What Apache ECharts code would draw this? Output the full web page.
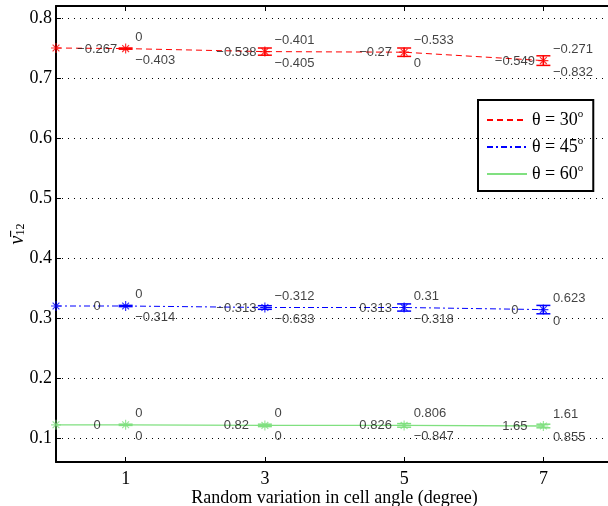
<!DOCTYPE html>
<html><head><meta charset="utf-8">
<script src="https://cdn.jsdelivr.net/npm/echarts@6/dist/echarts.min.js"></script>
<style>html,body{margin:0;padding:0;background:#fff}#c{width:608px;height:506px}</style>
</head><body><div id="c"></div>
<script>
const xValues = [0, 1, 3, 5, 7];
const xTicks = [1, 3, 5, 7];
const yTicks = [0.1, 0.2, 0.3, 0.4, 0.5, 0.6, 0.7, 0.8];
const seriesNames = ['θ = 30', 'θ = 45', 'θ = 60'];
const nu30 = [0.750, 0.749, 0.744, 0.743, 0.729];
const nu45 = [0.320, 0.320, 0.3175, 0.3175, 0.314];
const nu60 = [0.122, 0.122, 0.121, 0.121, 0.120];
const err30 = [0, 0.001, 0.006, 0.007, 0.008];
const err45 = [0, 0.001, 0.003, 0.006, 0.007];
const err60 = [0, 0.001, 0.002, 0.003, 0.003];
// annotations at x = 1, 3, 5, 7
const labelX = [1, 3, 5, 7];
const left30 = ['−0.267', '−0.538', '−0.27', '−0.549'];
const top30 = ['0', '−0.401', '−0.533', '−0.271'];
const bot30 = ['−0.403', '−0.405', '0', '−0.832'];
const left45 = ['0', '−0.313', '0.313', '0'];
const top45 = ['0', '−0.312', '0.31', '0.623'];
const bot45 = ['−0.314', '−0.633', '−0.318', '0'];
const left60 = ['0', '0.82', '0.826', '1.65'];
const top60 = ['0', '0', '0.806', '1.61'];
const bot60 = ['0', '0', '−0.847', '0.855'];

const colors = ['#ff0000', '#0000ff', '#80e080'];
const lineTypes = [[6, 4], [6, 3, 2, 3], 'solid'];
const vals = [nu30, nu45, nu60];
const errs = [err30, err45, err60];
const labs = [[left30, top30, bot30], [left45, top45, bot45], [left60, top60, bot60]];

const asterisk = 'path://M5,0L5,10M0,5L10,5M1.6,1.6L8.4,8.4M1.6,8.4L8.4,1.6';
const serif = 'Liberation Serif';
const sans = 'Liberation Sans';

const series = [];
// grid lines (dotted)
series.push({
  type: 'line', data: [], silent: true, z: 1,
  markLine: {
    silent: true, symbol: ['none', 'none'], animation: false,
    label: {show: false},
    lineStyle: {type: [1, 5], color: '#000', width: 1},
    data: yTicks.map(v => ({yAxis: v}))
  }
});
vals.forEach((v, k) => {
  const pts = xValues.map((x, i) => [x, v[i]]);
  series.push({
    name: seriesNames[k], type: 'line', data: pts, symbol: 'none', showSymbol: false,
    lineStyle: {color: colors[k], width: k === 2 ? 1.3 : 1, type: lineTypes[k]},
    itemStyle: {color: colors[k]}, z: 3, animation: false
  });
  series.push({
    type: 'scatter', data: pts, symbol: asterisk, symbolSize: 10,
    itemStyle: {color: 'transparent', borderColor: colors[k], borderWidth: 1.2},
    z: 4, animation: false, silent: true
  });
  const ed = xValues.map((x, i) => [x, v[i], errs[k][i]]).filter(d => d[2] > 0);
  series.push({
    type: 'custom', data: ed, z: 4, silent: true, animation: false,
    encode: {x: 0, y: 1},
    renderItem: (params, api) => {
      const x = api.value(0), y = api.value(1), e = api.value(2);
      const hi = api.coord([x, y + e]), lo = api.coord([x, y - e]);
      const w = 7;
      const style = {stroke: colors[k], lineWidth: 1.5};
      return {type: 'group', children: [
        {type: 'line', shape: {x1: hi[0], y1: hi[1], x2: lo[0], y2: lo[1]}, style},
        {type: 'line', shape: {x1: hi[0] - w, y1: hi[1], x2: hi[0] + w, y2: hi[1]}, style},
        {type: 'line', shape: {x1: lo[0] - w, y1: lo[1], x2: lo[0] + w, y2: lo[1]}, style}
      ]};
    }
  });
  const placements = [
    {position: [-28, 1], align: 'center'},
    {position: [10, -11], align: 'left'},
    {position: [10, 12], align: 'left'}
  ];
  labs[k].forEach((arr, j) => {
    series.push({
      type: 'scatter', symbolSize: 1, silent: true, animation: false, z: 5,
      itemStyle: {color: 'transparent'},
      data: labelX.map((x, i) => ({value: [x, v[xValues.indexOf(x)]], name: arr[i]})),
      label: {
        show: true, formatter: '{b}', position: placements[j].position,
        align: placements[j].align, verticalAlign: 'middle',
        fontFamily: sans, fontSize: 13, color: '#111'
      }
    });
  });
});

const chart = echarts.init(document.getElementById('c'), null, {renderer: 'canvas'});
chart.setOption({
  animation: false,
  backgroundColor: '#fff',
  grid: {left: 56, right: -5, top: 6, bottom: 44, containLabel: false, outerBoundsMode: 'none'},
  legend: {
    data: seriesNames, orient: 'vertical', left: 478, top: 100,
    backgroundColor: '#fff', borderColor: '#000', borderWidth: 2, borderRadius: 0,
    padding: [9, 10, 8, 8], itemWidth: 40, itemHeight: 10, itemGap: 7,
    itemStyle: {opacity: 0, color: 'transparent', borderWidth: 0},
    formatter: n => '{t|' + n + '}{s|o}',
    textStyle: {
      rich: {
        t: {fontFamily: serif, fontSize: 18, color: '#000', lineHeight: 22},
        s: {fontFamily: serif, fontSize: 11, color: '#000', verticalAlign: 'top', lineHeight: 1}
      }
    }
  },
  xAxis: [{
    type: 'value', min: 0, max: 8, position: 'bottom',
    name: 'Random variation in cell angle (degree)', nameLocation: 'middle', nameGap: 27,
    nameMoveOverlap: false,
    nameTextStyle: {fontFamily: serif, fontSize: 18, color: '#000'},
    axisLine: {show: true, onZero: false, lineStyle: {color: '#000', width: 2}},
    axisTick: {show: true, inside: true, length: 5, customValues: xTicks, lineStyle: {color: '#000', width: 1}},
    axisLabel: {show: true, customValues: xTicks, fontFamily: serif, fontSize: 18, color: '#000', margin: 8},
    splitLine: {show: false}
  }, {
    type: 'value', min: 0, max: 8, position: 'top',
    axisLine: {show: true, onZero: false, lineStyle: {color: '#000', width: 2}},
    axisTick: {show: true, inside: true, length: 5, customValues: xTicks, lineStyle: {color: '#000', width: 1}},
    axisLabel: {show: false},
    splitLine: {show: false}
  }],
  yAxis: {
    type: 'value', min: 0.06, max: 0.82,
    name: '{n|\u03bd\u0304}{s|12}', nameLocation: 'middle', nameRotate: 90, nameGap: 28,
    nameMoveOverlap: false,
    nameTextStyle: {
      rich: {
        n: {fontFamily: serif, fontStyle: 'italic', fontSize: 20, color: '#000'},
        s: {fontFamily: serif, fontSize: 12, color: '#000', padding: [6, 0, 0, 0]}
      }
    },
    axisLine: {show: true, onZero: false, lineStyle: {color: '#000', width: 2}},
    axisTick: {show: true, inside: true, length: 5, customValues: yTicks, lineStyle: {color: '#000', width: 1}},
    axisLabel: {show: true, customValues: yTicks, fontFamily: serif, fontSize: 18, color: '#000', margin: 4,
      formatter: v => v.toFixed(1)},
    splitLine: {show: false}
  },
  series
});
</script></body></html>
